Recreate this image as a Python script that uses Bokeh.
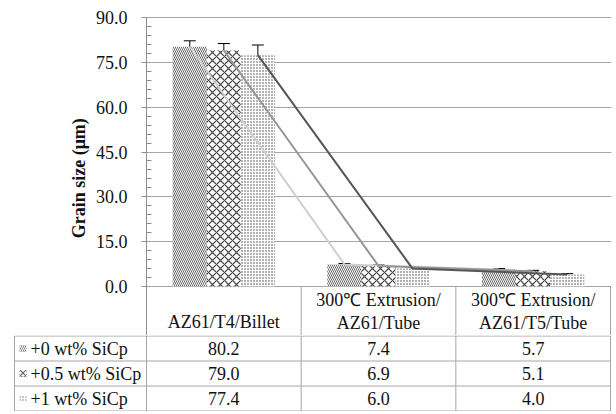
from bokeh.plotting import figure
from bokeh.models import Range1d, FixedTicker, Whisker, TeeHead, ColumnDataSource, NumeralTickFormatter
from bokeh.layouts import column
from bokeh.embed import file_html
from bokeh.resources import INLINE
from bokeh.core.properties import value

# ---------------- data ----------------
cat_line1 = ["AZ61/T4/Billet", "300\u2103 Extrusion/", "300\u2103 Extrusion/"]
cat_line2 = ["", "AZ61/Tube", "AZ61/T5/Tube"]
series_names = ["+0 wt% SiCp", "+0.5 wt% SiCp", "+1 wt% SiCp"]
s0 = [80.2, 7.4, 5.7]
s05 = [79.0, 6.9, 5.1]
s1 = [77.4, 6.0, 4.0]
err0 = [2.0, 0.3, 0.3]
err05 = [2.3, 0.3, 0.3]
err1 = [3.4, 0.3, 0.3]
y_ticks = [0, 15, 30, 45, 60, 75, 90]
y_minor = [v for v in range(3, 90, 3) if v % 15 != 0]

# ---------------- styling / layout ----------------
FONT = "Liberation Serif"
FS = "18px"
GRID = "#a6a6a6"
AXIS = "#8c8c8c"
TXT = "#111111"
HATCH = "#404040"
OY = 1                  # page origin (measured)
PX = 464 / 3.0          # px per category
PXY = 269 / 90.0        # px per um
FRAME_BOTTOM = 336
Y0 = 287
y_hi = 90 + 1 / PXY
y_lo = -(FRAME_BOTTOM - Y0) / PXY

series = [s0, s05, s1]
errs = [err0, err05, err1]
hatches = [("left_diagonal_line", 4, 0.8), ("diagonal_cross", 8, 1.2), ("dot", 3, 1.0)]
line_colors = ["#cfcfcf", "#969696", "#555555"]
offsets = [-0.22, 0.0, 0.22]
BW = 0.222

top = figure(width=614, height=FRAME_BOTTOM - OY,
             x_range=Range1d(0, 3 + 1 / PX), y_range=Range1d(y_lo, y_hi),
             x_axis_location=None, toolbar_location=None, output_backend="svg",
             min_border_left=147 - OY, min_border_right=3, min_border_top=17 - OY, min_border_bottom=0)
top.frame_align = False
top.outline_line_color = None
top.xgrid.visible = False
top.ygrid.ticker = FixedTicker(ticks=y_ticks)
top.ygrid.grid_line_color = GRID
top.ygrid.grid_line_width = 1

ax = top.yaxis[0]
ax.ticker = FixedTicker(ticks=y_ticks, minor_ticks=y_minor)
ax.formatter = NumeralTickFormatter(format="0.0")
ax.bounds = (y_lo, 90)
ax.axis_line_color = AXIS
ax.major_tick_line_color = AXIS
ax.minor_tick_line_color = AXIS
ax.major_tick_out = 5
ax.major_tick_in = 0
ax.minor_tick_in = 5
ax.minor_tick_out = 0
ax.major_label_standoff = 14
ax.major_label_text_font = FONT
ax.major_label_text_font_size = FS
ax.major_label_text_color = TXT
ax.axis_label = "Grain  size (\u03bcm)"
ax.axis_label_text_font = FONT
ax.axis_label_text_font_style = "bold"
ax.axis_label_text_font_size = FS
ax.axis_label_text_color = TXT
ax.axis_label_standoff = 4

cx = [0.5, 1.5, 2.5]
for i in range(3):
    xs = [c + offsets[i] for c in cx]
    pat, sc, w = hatches[i]
    top.vbar(x=xs, top=series[i], bottom=0, width=BW, fill_color="white",
             line_color=None, hatch_pattern=pat, hatch_scale=sc, hatch_weight=w,
             hatch_color=HATCH)

for i in range(3):
    xs = [c + offsets[i] for c in cx]
    top.line(x=xs, y=series[i], line_color=line_colors[i], line_width=2)

for i in range(3):
    xs = [c + offsets[i] for c in cx]
    src = ColumnDataSource(dict(x=xs, up=[v + e for v, e in zip(series[i], errs[i])],
                                lo=[v - e for v, e in zip(series[i], errs[i])]))
    wk = Whisker(base="x", upper="up", lower="lo", source=src, line_color="black", line_width=1,
                 upper_head=TeeHead(size=12, line_color="black", line_width=1),
                 lower_head=TeeHead(size=12, line_color="black", line_width=1))
    top.add_layout(wk)

# header of the table (inside the top figure, below y=0)
top.segment(x0=[1, 2, 3], y0=[0, 0, 0], x1=[1, 2, 3], y1=[y_lo] * 3, line_color=GRID, line_width=1)
hy1 = [-(322 - Y0) / PXY, -(300 - Y0) / PXY, -(300 - Y0) / PXY]
hy2 = [-(323 - Y0) / PXY] * 3
top.text(x=cx, y=hy1, text=cat_line1, text_align="center", text_baseline="middle",
         text_font=value(FONT), text_font_size=FS, text_color=TXT)
top.text(x=cx, y=hy2, text=cat_line2, text_align="center", text_baseline="middle",
         text_font=value(FONT), text_font_size=FS, text_color=TXT)

# ---------------- table rows ----------------
BOT_H = 412 - FRAME_BOTTOM
bot = figure(width=614, height=BOT_H,
             x_range=Range1d((14 - 147) / PX, (612 - 147) / PX),
             y_range=Range1d(BOT_H - 0.5, -0.5),
             x_axis_location=None, y_axis_location=None, toolbar_location=None,
             output_backend="svg", min_border_left=14 - OY, min_border_right=3,
             min_border_top=0, min_border_bottom=0)
bot.frame_align = False
bot.outline_line_color = None
bot.xgrid.visible = False
bot.ygrid.visible = False

xl = (15 - 147) / PX
row_h = 25
rows_y = [0, row_h, 2 * row_h, 3 * row_h]
bot.segment(x0=[xl] * 4, y0=rows_y, x1=[3] * 4, y1=rows_y, line_color=GRID, line_width=1)
bot.segment(x0=[xl, 0, 1, 2, 3], y0=[0] * 5, x1=[xl, 0, 1, 2, 3], y1=[rows_y[-1]] * 5,
            line_color=GRID, line_width=1)

for i in range(3):
    yc = row_h * i + row_h / 2
    pat, sc, w = hatches[i]
    bot.rect(x=[(23.5 - 147) / PX], y=[yc], width=7, height=7, width_units="screen",
             height_units="screen", fill_color="white", line_color=None,
             hatch_pattern=pat, hatch_scale=min(sc, 5), hatch_weight=w, hatch_color="#666666")
    bot.text(x=[(31 - 147) / PX], y=[yc], text=[series_names[i]], text_align="left",
             text_baseline="middle", text_font=value(FONT), text_font_size=FS, text_color=TXT)
    bot.text(x=cx, y=[yc] * 3, text=["%.1f" % v for v in series[i]], text_align="center",
             text_baseline="middle", text_font=value(FONT), text_font_size=FS, text_color=TXT)

layout = column(top, bot, spacing=0)
open("out.html", "w").write(file_html(layout, INLINE))
